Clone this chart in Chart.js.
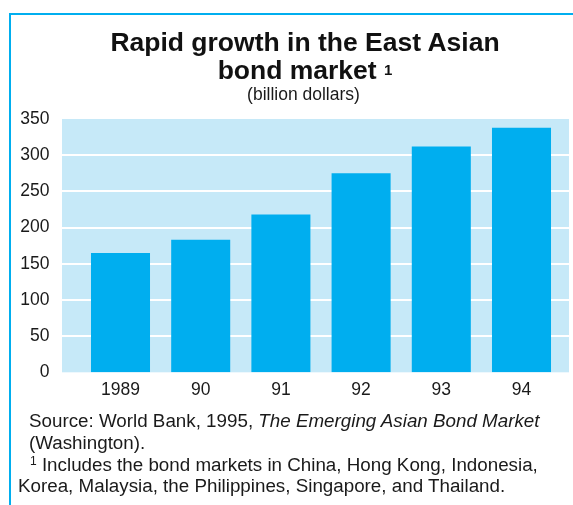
<!DOCTYPE html>
<html>
<head>
<meta charset="utf-8">
<script src="https://cdn.jsdelivr.net/npm/chart.js@4"></script>
<style>
  body { margin: 0; background: #fff; font-family: Arial, "Liberation Sans", sans-serif; color: #1a1a1a; }
  #page { position: relative; width: 573px; height: 505px; overflow: hidden; }
  #chart { position: absolute; left: 0; top: 0; }
  #frame { position: absolute; left: 9px; top: 13px; width: 570px; height: 500px; border-left: 2px solid #00aeef; border-top: 2px solid #00aeef; }
  .t { position: absolute; white-space: nowrap; }
  #title { left: 0; width: 610px; top: 29px; text-align: center; font-weight: bold; font-size: 26.5px; line-height: 27.6px; color: #111; }
  #title sup { font-size: 15px; position: relative; top: -1px; vertical-align: top; }
  #unit { left: 0; width: 607px; top: 86px; text-align: center; font-size: 17.5px; line-height: 1; }
  .note { font-size: 18.8px; line-height: 1; }
  .note sup { font-size: 12px; vertical-align: top; position: relative; top: -1px; }
</style>
</head>
<body>
<div id="page">
  <canvas id="chart" width="573" height="505"></canvas>
  <div id="frame"></div>
  <div class="t" id="title">Rapid growth in the East Asian<br>bond market <sup>1</sup></div>
  <div class="t" id="unit">(billion dollars)</div>
  <div class="t note" style="left:29px; top:412px;">Source: World Bank, 1995, <i>The Emerging Asian Bond Market</i></div>
  <div class="t note" style="left:29px; top:433.5px;">(Washington).</div>
  <div class="t note" style="left:30px; top:456px;"><sup>1</sup> Includes the bond markets in China, Hong Kong, Indonesia,</div>
  <div class="t note" style="left:18px; top:476.5px;">Korea, Malaysia, the Philippines, Singapore, and Thailand.</div>
</div>
<script>
const years = ["1989", "90", "91", "92", "93", "94"];
const bondMarket = [165, 183, 218, 275, 312, 338];
const yTicks = [0, 50, 100, 150, 200, 250, 300, 350];

// fond bleu pâle + lignes blanches, plus large que la zone des barres
const backdrop = {
  id: "backdrop",
  beforeDatasetsDraw(chart) {
    const { ctx, scales } = chart;
    const y = scales.y;
    const left = 62, right = 569;
    const top = y.getPixelForValue(350), bottom = y.getPixelForValue(0);
    ctx.save();
    ctx.fillStyle = "#c6e9f8";
    ctx.fillRect(left, top, right - left, bottom - top);
    ctx.strokeStyle = "#ffffff";
    ctx.lineWidth = 2;
    yTicks.slice(1, -1).forEach(v => {
      const py = Math.round(y.getPixelForValue(v));
      ctx.beginPath();
      ctx.moveTo(left, py);
      ctx.lineTo(right, py);
      ctx.stroke();
    });
    ctx.restore();
  }
};

new Chart(document.getElementById("chart"), {
  type: "bar",
  data: {
    labels: years,
    datasets: [{
      data: bondMarket,
      backgroundColor: "#00aeef",
      barPercentage: 0.736,
      categoryPercentage: 1
    }]
  },
  options: {
    responsive: false,
    animation: false,
    layout: { padding: { top: 119, right: 11.4, left: 0, bottom: 96.3 } },
    plugins: { legend: { display: false }, tooltip: { enabled: false } },
    scales: {
      x: {
        grid: { display: false, drawTicks: false },
        border: { display: false },
        ticks: { color: "#1a1a1a", font: { family: "Arial, 'Liberation Sans'", size: 17.5 }, padding: 7.7 }
      },
      y: {
        min: 0, max: 350,
        afterFit(scale) { scale.width = 80.4; },
        grid: { display: false, drawTicks: false },
        border: { display: false },
        ticks: {
          stepSize: 50,
          color: "#1a1a1a",
          font: { family: "Arial, 'Liberation Sans'", size: 17.5 },
          padding: 31
        }
      }
    }
  },
  plugins: [backdrop]
});
</script>
</body>
</html>
